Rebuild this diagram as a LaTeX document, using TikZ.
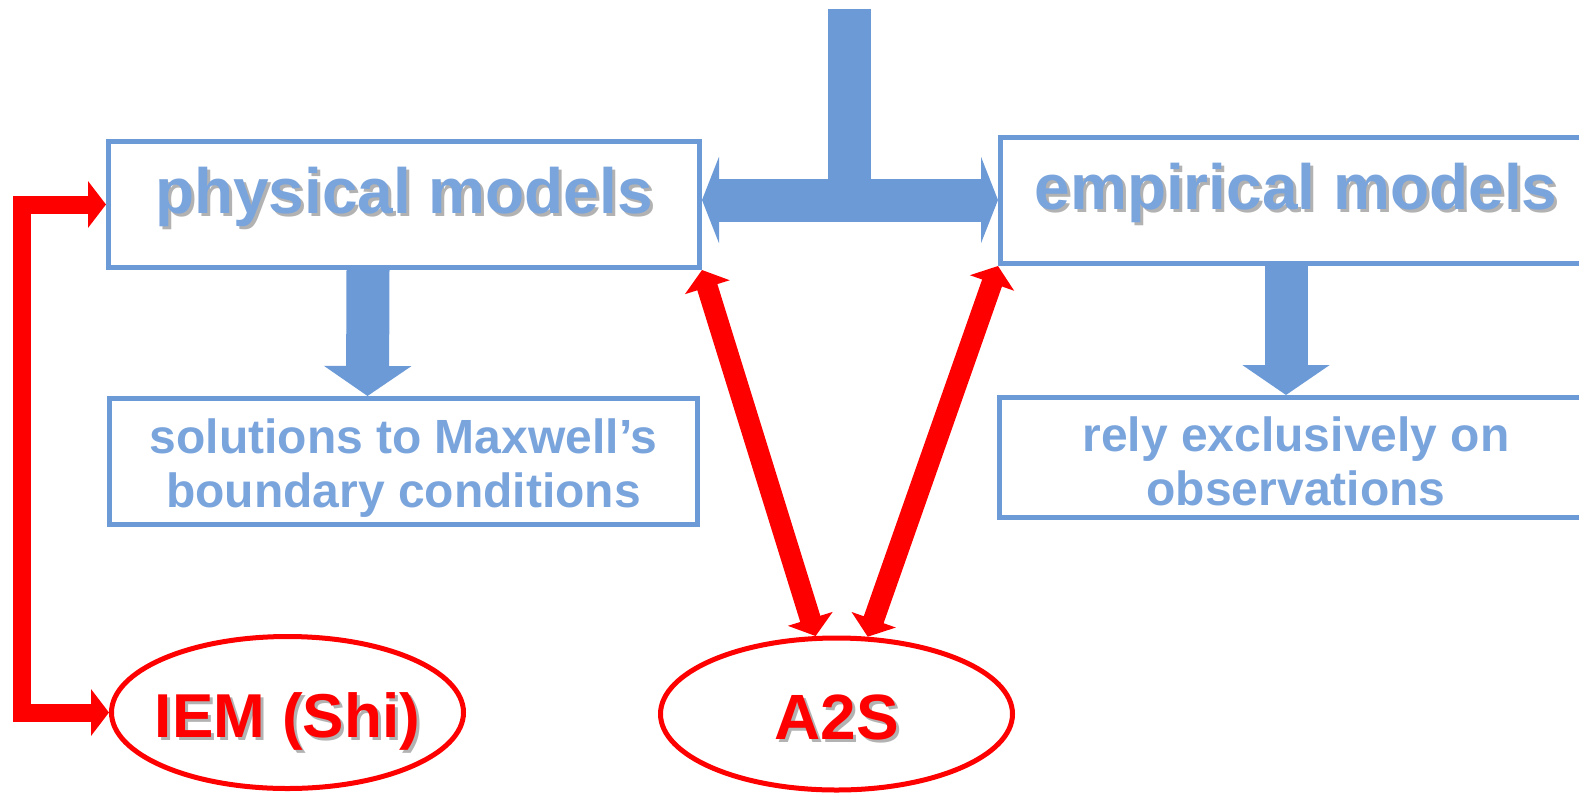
\documentclass[tikz,border=0pt]{standalone}
\usepackage{fontspec}
\setmainfont{Liberation Sans}
\usepackage{tikz}
\usetikzlibrary{arrows.meta, positioning, shapes.geometric}

\definecolor{boxblue}{RGB}{108,154,214}
\definecolor{labelblue}{RGB}{122,164,220}
\definecolor{shadowgray}{RGB}{178,178,178}
\newcommand{\shd}[1]{\rlap{\hspace{3pt}\raisebox{-3pt}{\color{shadowgray}#1}}#1}
\newcommand{\bigfont}{\fontsize{64}{64}\selectfont\bfseries}
\newcommand{\smallfont}{\fontsize{48}{54}\selectfont\bfseries}

\begin{document}
\begin{tikzpicture}[x=1pt, y=-1pt,
  modelbox/.style={draw=boxblue, line width=5pt, text=labelblue, font=\bigfont,
    inner sep=4pt, minimum width=591pt, minimum height=126pt,
    text height=50pt, text depth=33pt},
  notebox/.style={draw=boxblue, line width=5pt, text=labelblue, font=\smallfont,
    align=center, inner sep=4pt, minimum width=588pt, minimum height=120pt,
    text height=104pt, text depth=13pt},
  methodell/.style={ellipse, draw=red, line width=5pt, text=red, font=\bigfont,
    inner sep=0pt, minimum width=352pt, minimum height=152pt,
    text height=55pt, text depth=5pt},
  bluearrow/.style={boxblue, line width=43pt},
  redarrow/.style={red, line width=18pt,
    {Triangle[length=18pt,width=46pt]}-{Triangle[length=18pt,width=46pt]}}]
  \useasboundingbox (0,0) rectangle (1579,793);

  % --- Boxes ---
  \node[modelbox] (physical) at (404,204.5) {\shd{physical models}};
  \node[modelbox] (empirical) at (1296,200.5) {\shd{empirical models}};
  \node[notebox, minimum height=126pt] (solutions) at (403.5,461.5)
    {solutions to Maxwell’s\\boundary conditions};
  \node[notebox, minimum width=594pt, text depth=8pt] (rely) at (1296,457.5)
    {rely exclusively on\\observations};

  % --- Methods ---
  \node[methodell, font=\fontsize{62}{62}\selectfont\bfseries] (iem) at (287.5,712.5)
    {\makebox[0pt]{\shd{IEM (Shi)}}};
  \node[methodell] (atwos) at (836.5,714) {\makebox[0pt]{\shd{A2S}}};

  % --- Blue arrows ---
  \coordinate (ttop) at (849.5,9);
  \coordinate (tjoin) at (849.5,200);
  \draw[bluearrow] (ttop) -- (tjoin);
  \draw[bluearrow, {Triangle[length=17pt,width=86pt]}-{Triangle[length=17pt,width=86pt]}]
    (physical.east |- tjoin) -- (empirical.west |- tjoin);
  \draw[bluearrow, -{Triangle[length=30pt,width=86pt]}]
    ([xshift=-36pt]physical.south) -- ([xshift=-36pt]solutions.north);
  \draw[bluearrow, -{Triangle[length=30pt,width=86pt]}]
    ([xshift=-10pt]empirical.south) -- ([xshift=-10pt]rely.north);

  % --- Red arrows ---
  \coordinate (leftrail) at (22,0);
  \draw[redarrow] (physical.west) -- (physical.west -| leftrail) |- (iem.west);
  \draw[redarrow, line width=21pt] (physical.south east) -- (atwos.105);
  \draw[redarrow, line width=21pt] (empirical.south west) -- (atwos.68);

\end{tikzpicture}
\end{document}
